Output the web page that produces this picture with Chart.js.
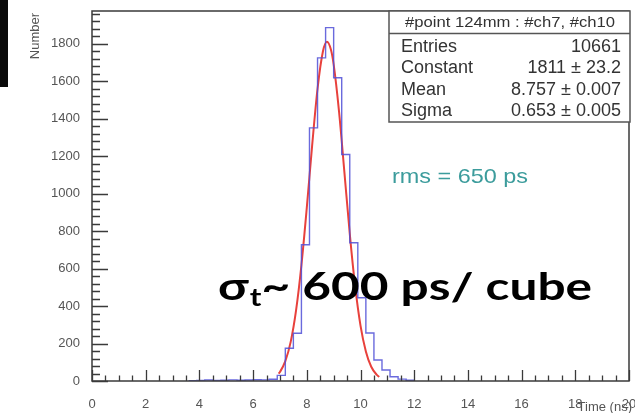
<!DOCTYPE html>
<html>
<head>
<meta charset="utf-8">
<script src="https://cdn.jsdelivr.net/npm/chart.js@4.4.1/dist/chart.umd.min.js"></script>
<style>
  html, body { margin: 0; padding: 0; background: #fff; }
</style>
</head>
<body>
<canvas id="myChart" width="635" height="413"></canvas>
<script>
// time histogram, bins of 0.3 ns (left edge of each bin)
const binEdges = [3.6, 3.9, 4.2, 4.5, 4.8, 5.1, 5.4, 5.7, 6.0, 6.3, 6.6, 6.9, 7.2, 7.5,
  7.8, 8.1, 8.4, 8.7, 9.0, 9.3, 9.6, 9.9, 10.2, 10.5, 10.8, 11.1, 11.4, 11.7, 12.0];
const binCounts = [2, 3, 5, 3, 4, 6, 4, 5, 7, 6, 9, 30, 175, 255,
  727, 1351, 1725, 1886, 1619, 1209, 738, 444, 256, 112, 59, 23, 10, 4];

// red gaussian fit
const fitX = [6.95, 7.0, 7.2, 7.4, 7.6, 7.8, 8.0, 8.2, 8.4, 8.6, 8.75, 8.9,
  9.0, 9.2, 9.4, 9.6, 9.8, 10.0, 10.2, 10.4, 10.6, 10.7];
const fitY = [39, 48, 106, 209, 377, 619, 925, 1259, 1560, 1759, 1811, 1768,
  1690, 1439, 1115, 787, 506, 296, 158, 76, 34, 22];

// axis tick labels
const xTickValues = [0, 2, 4, 6, 8, 10, 12, 14, 16, 18, 20];
const yTickValues = [0, 200, 400, 600, 800, 1000, 1200, 1400, 1600, 1800];

// stats box
const statsTitle = "#point 124mm : #ch7, #ch10";
const statNames = ["Entries", "Constant", "Mean", "Sigma"];
const statValues = ["10661", "1811 \u00b1 23.2", "8.757 \u00b1 0.007", "0.653 \u00b1 0.005"];

const histPoints = binCounts.map((c, i) => ({ x: binEdges[i], y: c }));
histPoints.push({ x: binEdges[binEdges.length - 1], y: binCounts[binCounts.length - 1] });
const fitPoints = fitX.map((v, i) => ({ x: v, y: fitY[i] }));

const helv = "'Liberation Sans', Arial, sans-serif";

// draw text squeezed/stretched to a given width (the slide is a bit stretched)
function fitText(ctx, text, x, y, width) {
  const w = ctx.measureText(text).width;
  ctx.save();
  ctx.translate(x, y);
  ctx.scale(width / w, 1);
  ctx.fillText(text, 0, 0);
  ctx.restore();
}

// ROOT-like frame, inward ticks, stats box and notes
const rootFrame = {
  id: "rootFrame",
  afterDatasetsDraw(chart) {
    const { ctx, chartArea: a, scales: { x, y } } = chart;
    ctx.save();

    // frame
    ctx.strokeStyle = "#3a3a3a";
    ctx.lineWidth = 1.5;
    ctx.strokeRect(a.left, a.top, a.right - a.left, a.bottom - a.top);

    // ticks pointing into the frame
    ctx.lineWidth = 1.3;
    ctx.beginPath();
    for (let v = 0; v <= 1960; v += 40) {
      const py = Math.round(y.getPixelForValue(v)) + 0.5;
      const len = v % 200 === 0 ? 16 : 8;
      ctx.moveTo(a.left, py);
      ctx.lineTo(a.left + len, py);
    }
    for (let v = 0; v <= 20; v += 0.5) {
      const px = Math.round(x.getPixelForValue(v)) + 0.5;
      const len = v % 2 === 0 ? 11 : 5.5;
      ctx.moveTo(px, a.bottom);
      ctx.lineTo(px, a.bottom - len);
    }
    ctx.stroke();

    // axis titles
    ctx.fillStyle = "#555";
    ctx.font = "13px " + helv;
    ctx.textAlign = "right";
    ctx.textBaseline = "middle";
    ctx.fillText("Time (ns)", 632, 407);
    ctx.save();
    ctx.translate(35, 13);
    ctx.rotate(-Math.PI / 2);
    ctx.fillText("Number", 0, 0);
    ctx.restore();

    // stats box
    const bx = 389, by = 11, bw = 241, bh = 111;
    ctx.fillStyle = "#fff";
    ctx.fillRect(bx, by, bw, bh);
    ctx.strokeStyle = "#555";
    ctx.lineWidth = 1.5;
    ctx.strokeRect(bx, by, bw, bh);
    ctx.beginPath();
    ctx.moveTo(bx, 33.5);
    ctx.lineTo(bx + bw, 33.5);
    ctx.stroke();

    ctx.fillStyle = "#333";
    ctx.textAlign = "left";
    ctx.font = "15px " + helv;
    fitText(ctx, statsTitle, 405, 22.5, 210);
    ctx.font = "18px " + helv;
    statNames.forEach((n, i) => {
      const ty = 47 + i * 21.3;
      ctx.textAlign = "left";
      ctx.fillText(n, 401, ty);
      ctx.textAlign = "right";
      ctx.fillText(statValues[i], 621, ty);
    });

    // rms note
    ctx.fillStyle = "#3c9c9c";
    ctx.textAlign = "left";
    ctx.font = "21px " + helv;
    fitText(ctx, "rms = 650 ps", 392, 177, 136);

    // big annotation, sigma with subscript t
    ctx.fillStyle = "#000";
    ctx.textBaseline = "alphabetic";
    const big = "bold 38px Lato", sub = "bold 24px Lato";
    const rest = "~ 600 ps/ cube";
    ctx.font = big;
    const wSig = ctx.measureText("\u03c3").width + 1;
    const wRest = ctx.measureText(rest).width;
    ctx.font = sub;
    const wT = ctx.measureText("t").width;
    const k = 374 / (wSig + wT + wRest);
    ctx.save();
    ctx.translate(218, 300);
    ctx.scale(k, 1);
    ctx.font = big;
    ctx.fillText("\u03c3", 0, 0);
    ctx.font = sub;
    ctx.fillText("t", wSig, 6);
    ctx.font = big;
    ctx.fillText(rest, wSig + wT, 0);
    ctx.restore();

    // black strip at the top left of the slide
    ctx.fillStyle = "#0a0a0a";
    ctx.fillRect(0, 0, 8, 87);

    ctx.restore();
  }
};

new Chart("myChart", {
  type: "line",
  data: {
    datasets: [
      {
        data: histPoints,
        stepped: "before",
        borderColor: "rgba(80, 80, 215, 0.85)",
        borderWidth: 1.4,
        pointRadius: 0,
        fill: false,
      },
      {
        data: fitPoints,
        borderColor: "#e8413c",
        borderWidth: 2,
        pointRadius: 0,
        cubicInterpolationMode: "monotone",
        fill: false,
      },
    ],
  },
  options: {
    responsive: false,
    animation: false,
    layout: { padding: { left: 0, right: 6, top: 11, bottom: 0 } },
    plugins: {
      legend: { display: false },
      tooltip: { enabled: false },
    },
    scales: {
      x: {
        type: "linear",
        min: 0,
        max: 20,
        afterBuildTicks(s) { s.ticks = xTickValues.map((v) => ({ value: v })); },
        ticks: {
          padding: 8,
          autoSkip: false,
          maxRotation: 0,
          color: "#555",
          font: { family: helv, size: 13 },
          callback: (v) => String(v),
        },
        grid: { display: false },
        border: { display: false },
        afterFit(s) { s.height = 32; s.paddingLeft = 0; s.paddingRight = 0; },
      },
      y: {
        min: 0,
        max: 1975,
        afterBuildTicks(s) { s.ticks = yTickValues.map((v) => ({ value: v })); },
        ticks: {
          padding: 4,
          color: "#555",
          font: { family: helv, size: 13 },
          callback: (v) => String(v),
        },
        grid: { display: false },
        border: { display: false },
        afterFit(s) { s.width = 92; s.paddingTop = 0; s.paddingBottom = 0; },
      },
    },
  },
  plugins: [rootFrame],
});
</script>
</body>
</html>
